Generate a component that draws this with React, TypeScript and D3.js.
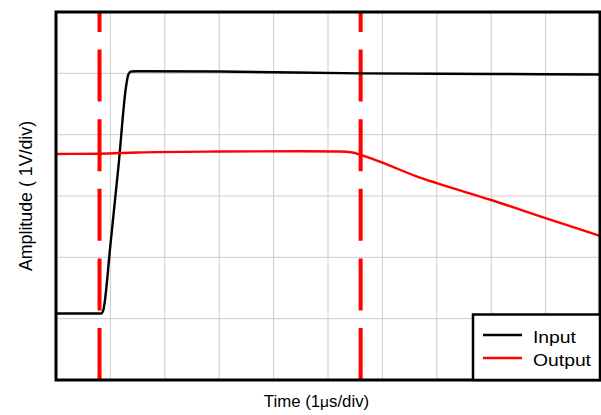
import * as d3 from "d3";

const width = 601;
const height = 415;
const margin = { top: 12, right: 1, bottom: 35, left: 56 };

// time in µs (1 div each), amplitude in divisions
const xTicks = [0, 1, 2, 3, 4, 5, 6, 7, 8, 9, 10];
const yTicks = [0, 1, 2, 3, 4, 5, 6];

const inputTime = [0, 0.5, 0.83, 0.87, 1.0, 1.15, 1.29, 1.33, 1.38, 1.5, 3, 5.6, 8, 10];
const inputAmp = [1.084, 1.084, 1.084, 1.14, 2.2, 3.5, 4.8, 4.98, 5.03, 5.035, 5.03, 5.0, 4.99, 4.98];

const outputTime = [0, 0.8, 1.5, 3, 4.5, 5.2, 5.45, 5.6, 5.95, 6.69, 7.0, 8.0, 9.0, 10];
const outputAmp = [3.685, 3.69, 3.71, 3.725, 3.73, 3.725, 3.71, 3.67, 3.56, 3.3, 3.21, 2.935, 2.64, 2.35];

const markerTimes = [0.8, 5.6];

const series = [
  { name: "Input", color: "#000000", time: inputTime, amp: inputAmp, labelWidth: 43 },
  { name: "Output", color: "#ff0000", time: outputTime, amp: outputAmp, labelWidth: 58 },
];

export default function App() {
  const x = d3.scaleLinear().domain([0, 10]).range([margin.left, width - margin.right]);
  const y = d3.scaleLinear().domain([0, 6]).range([height - margin.bottom, margin.top]);

  const line = d3
    .line<[number, number]>()
    .x((d) => x(d[0]))
    .y((d) => y(d[1]))
    .curve(d3.curveMonotoneX);

  const plotLeft = x(0);
  const plotRight = x(10);
  const plotTop = y(6);
  const plotBottom = y(0);

  const legend = { x0: 473, y0: 314.5 };

  return (
    <div style={{ position: "fixed", left: 0, top: 0 }}>
      <svg width={width} height={height} style={{ display: "block", fontFamily: "'Liberation Sans', Arial, sans-serif" }}>
        <rect width={width} height={height} fill="#ffffff" />

        {xTicks.map((t) => (
          <line key={`gx${t}`} x1={x(t)} x2={x(t)} y1={plotTop} y2={plotBottom} stroke="#cccccc" strokeWidth={1} />
        ))}
        {yTicks.map((t) => (
          <line key={`gy${t}`} x1={plotLeft} x2={plotRight} y1={y(t)} y2={y(t)} stroke="#cccccc" strokeWidth={1} />
        ))}

        {markerTimes.map((t) => (
          <line
            key={`m${t}`}
            x1={x(t)}
            x2={x(t)}
            y1={plotBottom}
            y2={plotTop}
            stroke="#ff0000"
            strokeWidth={4}
            strokeDasharray="52 17.6"
          />
        ))}

        {series.map((s) => (
          <path
            key={s.name}
            d={line(s.time.map((t, i) => [t, s.amp[i]] as [number, number])) ?? ""}
            fill="none"
            stroke={s.color}
            strokeWidth={2.4}
            strokeLinejoin="round"
          />
        ))}

        <rect
          x={plotLeft}
          y={plotTop}
          width={plotRight - plotLeft}
          height={plotBottom - plotTop}
          fill="none"
          stroke="#000000"
          strokeWidth={3}
        />

        <g>
          <rect
            x={legend.x0}
            y={legend.y0}
            width={plotRight - legend.x0}
            height={plotBottom - legend.y0}
            fill="#ffffff"
            stroke="#000000"
            strokeWidth={2.5}
          />
          {series.map((s, i) => (
            <g key={`lg${s.name}`}>
              <line x1={483} x2={522} y1={335 + i * 23} y2={335 + i * 23} stroke={s.color} strokeWidth={2.5} />
              <text
                x={533}
                y={342.5 + i * 23.5}
                fontSize={16.8}
                fill="#000000"
                textLength={s.labelWidth}
                lengthAdjust="spacingAndGlyphs"
              >
                {s.name}
              </text>
            </g>
          ))}
        </g>

        <text x={316.5} y={407} textAnchor="middle" fontSize={16.8} fill="#000000">
          Time (1<tspan fontSize={15.5}>μ</tspan>s/div)
        </text>
        <text
          transform={`translate(32,${(plotTop + plotBottom) / 2}) rotate(-90)`}
          textAnchor="middle"
          fontSize={17.8}
          fill="#000000"
        >
          Amplitude ( 1V/div)
        </text>
      </svg>
    </div>
  );
}
